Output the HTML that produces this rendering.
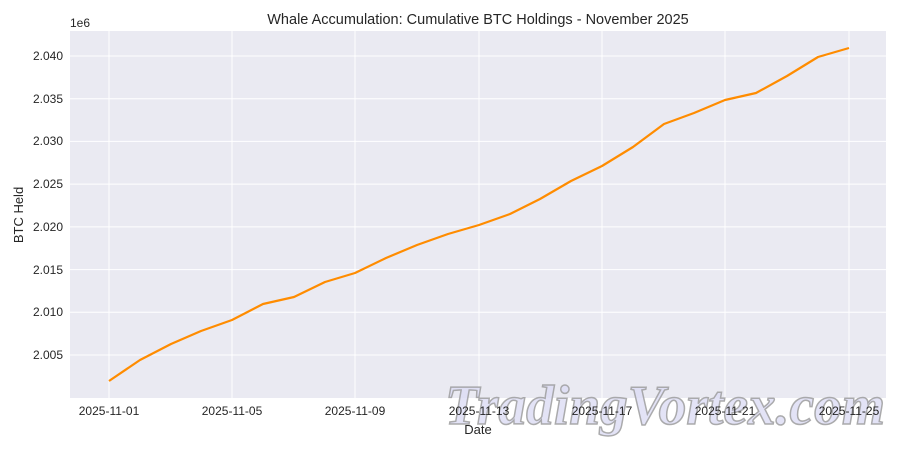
<!DOCTYPE html>
<html><head><meta charset="utf-8"><style>html,body{margin:0;padding:0;background:#fff}svg{display:block}</style></head><body>
<svg width="900" height="450" xmlns="http://www.w3.org/2000/svg" font-family="Liberation Sans, DejaVu Sans, sans-serif">
<rect x="70" y="31" width="816" height="367" fill="#eaeaf2"/>
<g stroke="#fff" stroke-width="1">
<line x1="109" y1="31" x2="109" y2="398"/><line x1="232" y1="31" x2="232" y2="398"/><line x1="355" y1="31" x2="355" y2="398"/><line x1="479" y1="31" x2="479" y2="398"/><line x1="602" y1="31" x2="602" y2="398"/><line x1="725" y1="31" x2="725" y2="398"/><line x1="849" y1="31" x2="849" y2="398"/>
<line x1="70" y1="56" x2="886" y2="56"/><line x1="70" y1="98.7" x2="886" y2="98.7"/><line x1="70" y1="141.4" x2="886" y2="141.4"/><line x1="70" y1="184.1" x2="886" y2="184.1"/><line x1="70" y1="226.9" x2="886" y2="226.9"/><line x1="70" y1="269.6" x2="886" y2="269.6"/><line x1="70" y1="312.3" x2="886" y2="312.3"/><line x1="70" y1="355" x2="886" y2="355"/>
</g>
<polyline fill="none" stroke="#ff8c00" stroke-width="2.2" stroke-linejoin="round" points="109,381 140,360 171,344 201,331 232,320 263,304 294,297 325,282 355,273 386,258 417,245 448,234 479,225 510,214 540,199 571,181 602,166 633,147 664,124 694,113 725,100 756,93 787,76 818,57 849,48"/>
<text x="445" y="424" font-family="Liberation Serif, serif" font-style="italic" font-weight="bold" font-size="56" textLength="440" lengthAdjust="spacingAndGlyphs" fill="#dcdcf4" fill-opacity="0.8" stroke="#999" stroke-width="1.5" stroke-opacity="0.8">TradingVortex.com</text>
<g font-size="12" fill="#262626" text-anchor="end">
<text x="63" y="60">2.040</text><text x="63" y="103">2.035</text><text x="63" y="145">2.030</text><text x="63" y="188">2.025</text><text x="63" y="231">2.020</text><text x="63" y="274">2.015</text><text x="63" y="316">2.010</text><text x="63" y="359">2.005</text>
</g>
<text x="70" y="27" font-size="12" fill="#262626">1e6</text>
<g font-size="12" fill="#262626" text-anchor="middle">
<text x="109" y="415">2025-11-01</text><text x="232" y="415">2025-11-05</text><text x="355" y="415">2025-11-09</text><text x="479" y="415">2025-11-13</text><text x="602" y="415">2025-11-17</text><text x="725" y="415">2025-11-21</text><text x="849" y="415">2025-11-25</text>
</g>
<text x="478" y="434" font-size="13" fill="#262626" text-anchor="middle">Date</text>
<text transform="translate(23,215) rotate(-90)" font-size="13" fill="#262626" text-anchor="middle">BTC Held</text>
<text x="478" y="24" font-size="14.5" fill="#262626" text-anchor="middle">Whale Accumulation: Cumulative BTC Holdings - November 2025</text>
</svg>
</body></html>
